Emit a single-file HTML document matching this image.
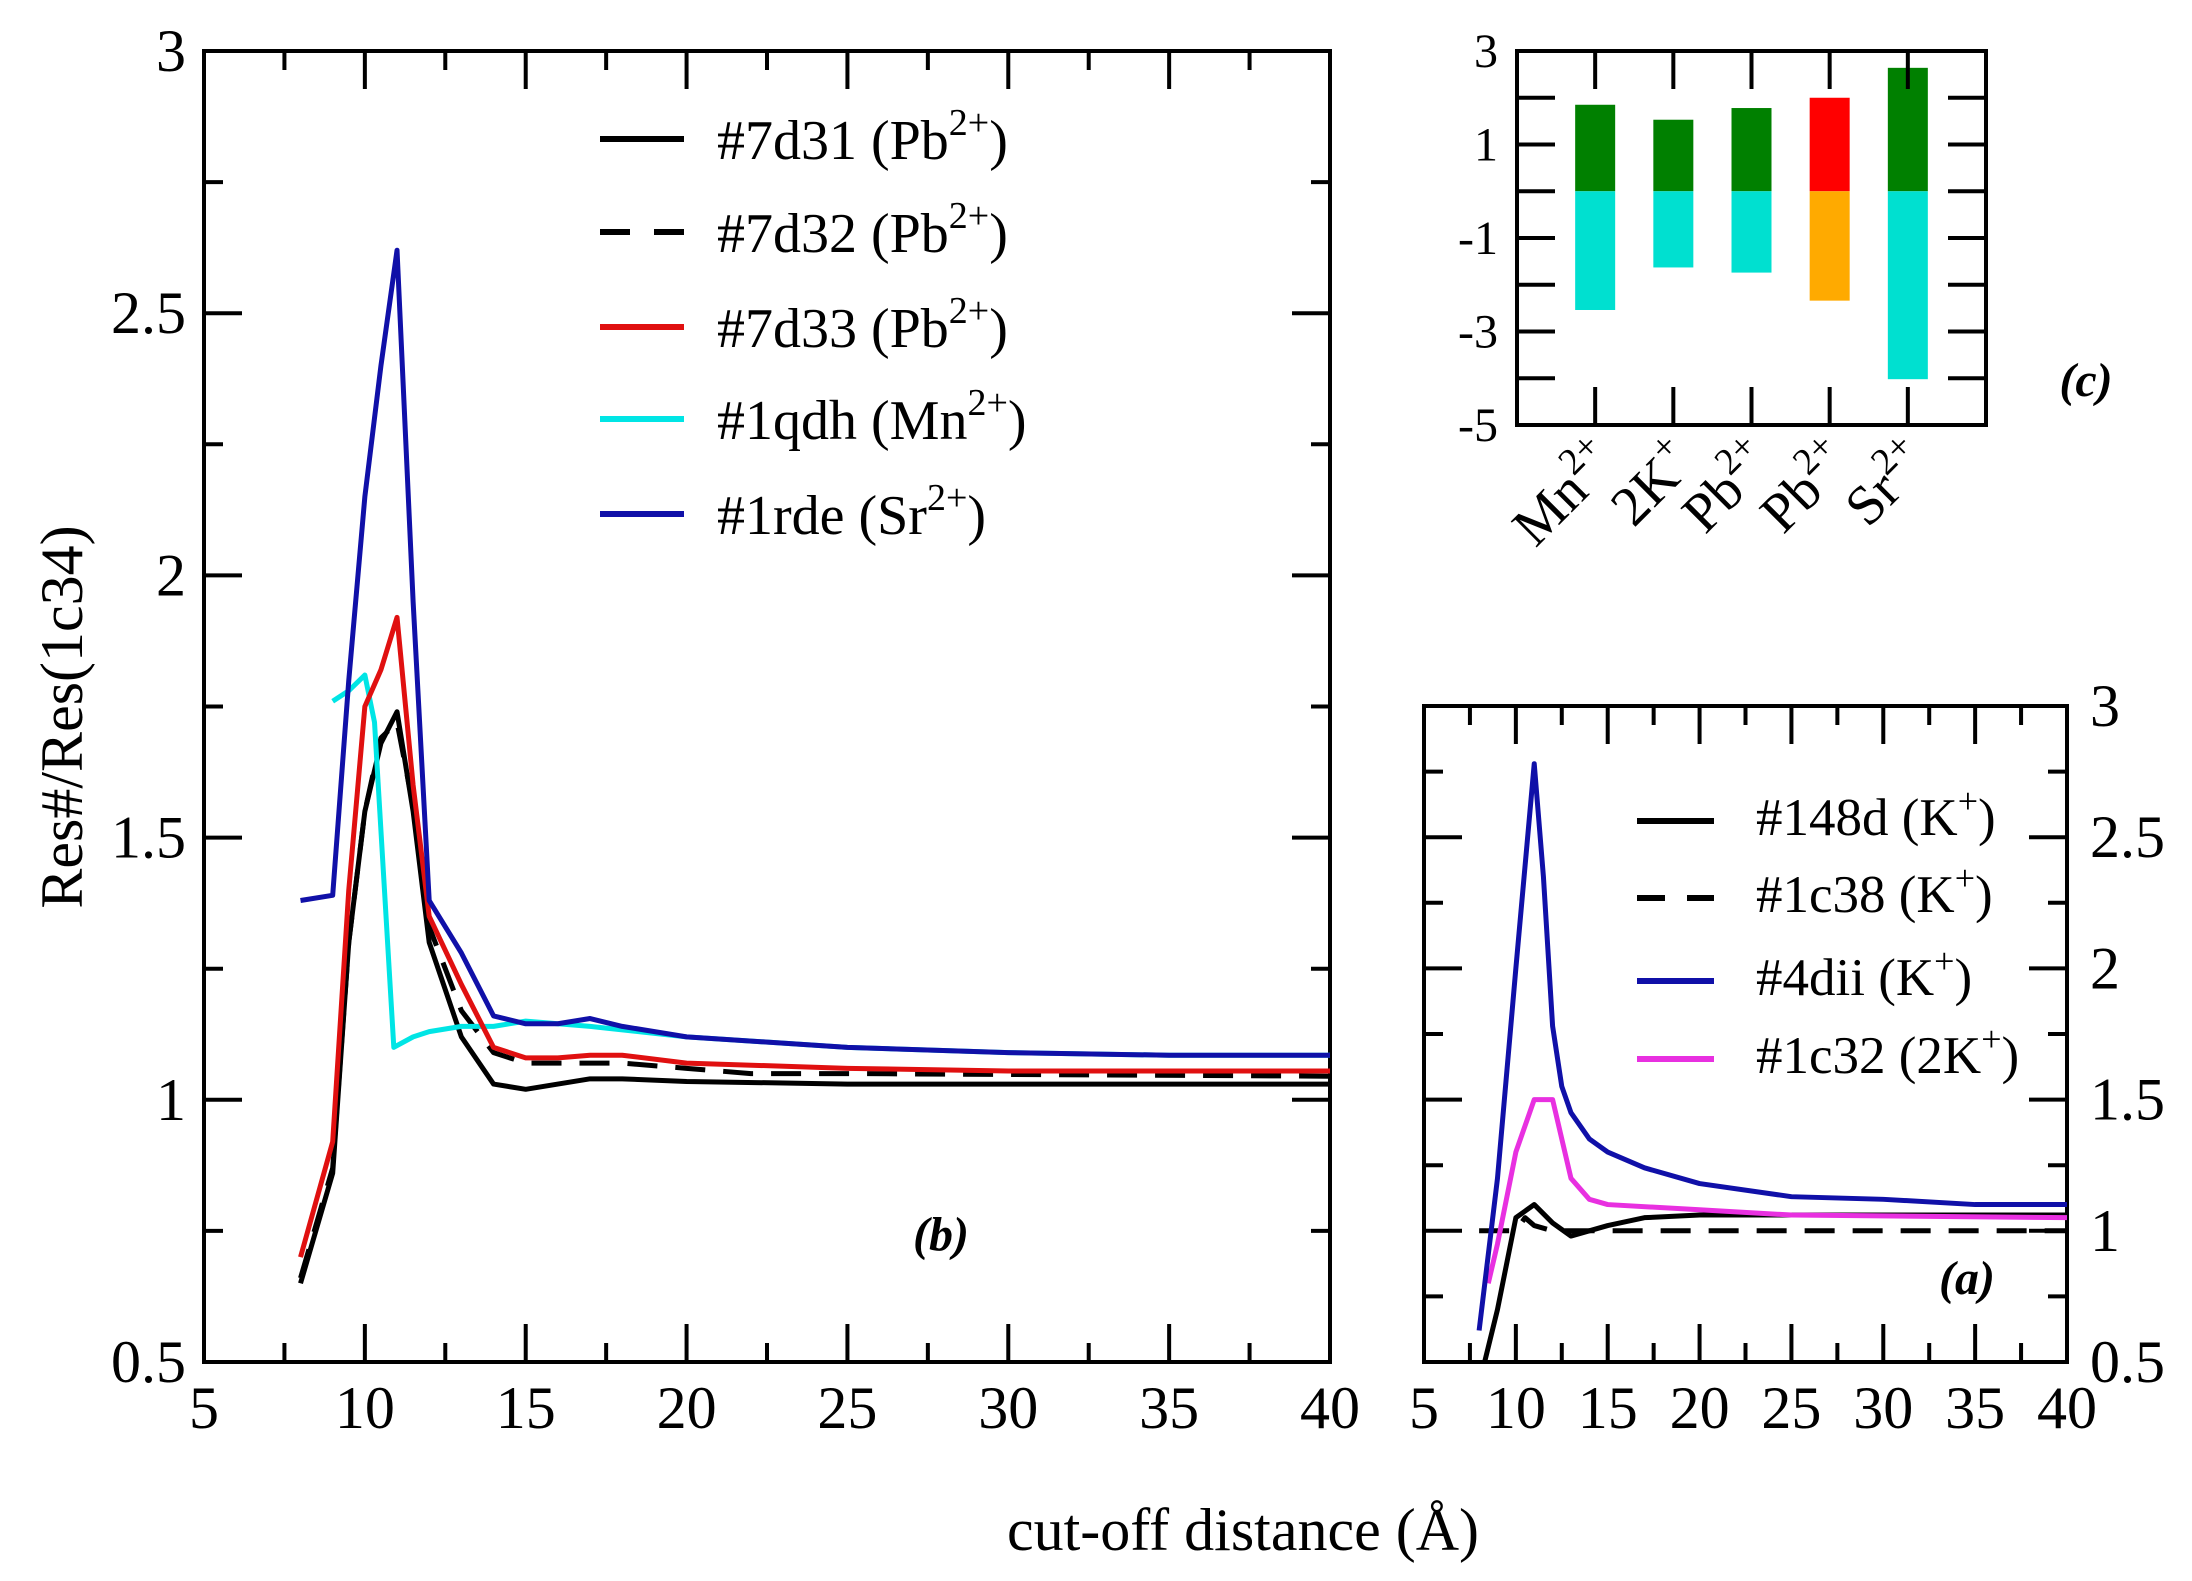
<!DOCTYPE html>
<html><head><meta charset="utf-8">
<style>
html,body{margin:0;padding:0;background:#fff;}
svg{display:block;}
text{font-family:"Liberation Serif",serif;fill:#000;}
</style></head>
<body>
<svg id="fig" xmlns="http://www.w3.org/2000/svg" width="2192" height="1581" viewBox="0 0 2192 1581">
<rect width="2192" height="1581" fill="#fff"/>
<g id="panelB"></g>
<g id="panelA"></g>
<g id="panelC"></g>
<text x="0" y="0" font-size="60" text-anchor="middle" transform="translate(82,717) rotate(-90)">Res#/Res(1c34)</text>
<text x="1243" y="1550" font-size="60" text-anchor="middle">cut-off distance (Å)</text>
<text x="941" y="1250" font-size="48" font-weight="bold" font-style="italic" text-anchor="middle">(b)</text>
<text x="1967" y="1294" font-size="48" font-weight="bold" font-style="italic" text-anchor="middle">(a)</text>
<text x="2086" y="396" font-size="48" font-weight="bold" font-style="italic" text-anchor="middle">(c)</text>
</svg>
<script>
// ---- Panel (b) data ----
const bSr_x = [8,9,9.5,10,10.5,11,11.5,12,13,14,15,16,17,18,20,25,30,35,40];
const bSr_y = [1.38,1.39,1.8,2.15,2.4,2.62,1.95,1.38,1.28,1.16,1.145,1.145,1.155,1.14,1.12,1.10,1.09,1.085,1.085];
const bRed_x = [8,9,9.5,10,10.5,11,11.5,12,13,14,15,16,17,18,20,25,30,40];
const bRed_y = [0.70,0.92,1.4,1.75,1.82,1.92,1.6,1.35,1.22,1.10,1.08,1.08,1.085,1.085,1.07,1.06,1.055,1.055];
const bBlk_x = [8,9,9.5,10,10.5,11,11.5,12,13,14,15,16,17,18,20,25,40];
const bBlk_y = [0.65,0.86,1.3,1.55,1.68,1.74,1.55,1.30,1.12,1.03,1.02,1.03,1.04,1.04,1.035,1.03,1.03];
const bDash_x = [8,9,9.5,10,10.5,11,11.5,12,13,14,15,16,18,20,22,25,40];
const bDash_y = [0.66,0.87,1.3,1.55,1.69,1.72,1.56,1.33,1.17,1.09,1.07,1.07,1.07,1.06,1.05,1.05,1.045];
const bCyan_x = [9,9.5,10,10.3,10.9,11.5,12,13,14,15,17,20,25,30,35,40];
const bCyan_y = [1.76,1.78,1.81,1.72,1.10,1.12,1.13,1.14,1.14,1.15,1.14,1.12,1.10,1.09,1.085,1.085];
const bYTicks = [0.5,1,1.5,2,2.5,3];
const bYLabels = ["0.5","1","1.5","2","2.5","3"];
const xTicks = [5,10,15,20,25,30,35,40];
const xLabels = ["5","10","15","20","25","30","35","40"];
// ---- Panel (a) data ----
const aBlue_x = [8,9,10,11,11.5,12,12.5,13,14,15,17,20,25,30,35,40];
const aBlue_y = [0.62,1.2,2.0,2.78,2.35,1.78,1.55,1.45,1.35,1.3,1.24,1.18,1.13,1.12,1.10,1.10];
const aMag_x = [8.5,9,10,11,12,13,14,15,20,25,40];
const aMag_y = [0.8,0.95,1.3,1.5,1.5,1.2,1.12,1.1,1.08,1.06,1.05];
const aBlk_x = [8.3,9,10,11,12,13,14,15,17,20,40];
const aBlk_y = [0.5,0.7,1.05,1.1,1.03,0.98,1.0,1.02,1.05,1.06,1.06];
const aDash_x = [8,10,10.5,11,12,40];
const aDash_y = [1.0,1.0,1.05,1.02,1.0,1.0];
const aYTicks = [0.5,1,1.5,2,2.5,3];
const aYLabels = ["0.5","1","1.5","2","2.5","3"];
// ---- Panel (c) data ----
const cCats = ["Mn","2K","Pb","Pb","Sr"];
const cSups = ["2+","+","2+","2+","2+"];
const cPos = [1.85,1.53,1.78,2.0,2.64];
const cNeg = [-2.54,-1.63,-1.74,-2.34,-4.02];
const cPosColors = ["#008000","#008000","#008000","#ff0000","#008000"];
const cNegColors = ["#00e0d0","#00e0d0","#00e0d0","#ffaa00","#00e0d0"];
const cYTicks = [3,1,-1,-3,-5];
const cYLabels = ["3","1","-1","-3","-5"];

const NS="http://www.w3.org/2000/svg";
function mk(parent,tag,attrs){const e=document.createElementNS(NS,tag);for(const k in attrs)e.setAttribute(k,attrs[k]);parent.appendChild(e);return e;}

// panel b
const gB=document.getElementById('panelB');
const bL=204,bR=1330,bT=51,bBt=1362;
const bX=x=>bL+(x-5)*(bR-bL)/35;
const bY=v=>bBt-(v-0.5)*(bBt-bT)/2.5;
function ticksFrame(g,L,R,T,B,xf,yf,yMin,yMax,yStep){
  let f=mk(g,'rect',{x:L,y:T,width:R-L,height:B-T,fill:'none',stroke:'#000','stroke-width':4});
  
  
  for(let x=5;x<=40.01;x+=2.5){
    const major=Math.abs(x/5-Math.round(x/5))<1e-6;const len=major?38:19;const px=xf(x);
    mk(g,'line',{x1:px,y1:B,x2:px,y2:B-len,stroke:'#000','stroke-width':4});
    mk(g,'line',{x1:px,y1:T,x2:px,y2:T+len,stroke:'#000','stroke-width':4});
  }
  for(let v=yMin;v<=yMax+1e-6;v+=yStep/2){
    const major=Math.abs(v/yStep-Math.round(v/yStep))<1e-6;const len=major?38:19;const py=yf(v);
    mk(g,'line',{x1:L,y1:py,x2:L+len,y2:py,stroke:'#000','stroke-width':4});
    mk(g,'line',{x1:R,y1:py,x2:R-len,y2:py,stroke:'#000','stroke-width':4});
  }
}
ticksFrame(gB,bL,bR,bT,bBt,bX,bY,0.5,3,0.5);
xTicks.forEach((t,i)=>{const e=mk(gB,'text',{x:bX(t),y:1428,'font-size':60,'text-anchor':'middle'});e.textContent=xLabels[i];

});
bYTicks.forEach((t,i)=>{const e=mk(gB,'text',{x:186,y:bY(t)+20,'font-size':60,'text-anchor':'end'});e.textContent=bYLabels[i];

});
function line(g,xs,ys,xf,yf,color,dash,name,w,clip){
  const pts=xs.map((x,i)=>xf(x)+','+yf(ys[i])).join(' ');
  const a={points:pts,fill:'none',stroke:color,'stroke-width':w||5,'stroke-linejoin':'round'};
  if(dash)a['stroke-dasharray']=dash;
  if(clip)a['clip-path']=clip;
  const e=mk(g,'polyline',a);
  
  
}
line(gB,bDash_x,bDash_y,bX,bY,'#000','30,18','series-7d32');
line(gB,bBlk_x,bBlk_y,bX,bY,'#000',null,'series-7d31');
line(gB,bCyan_x,bCyan_y,bX,bY,'#00e5e5',null,'series-1qdh');
line(gB,bRed_x,bRed_y,bX,bY,'#e01010',null,'series-7d33');
line(gB,bSr_x,bSr_y,bX,bY,'#1010a8',null,'series-1rde');
const legB=[["#7d31 (Pb","2+",")","#000",null],["#7d32 (Pb","2+",")","#000","30,18"],["#7d33 (Pb","2+",")","#e01010",null],["#1qdh (Mn","2+",")","#00e5e5",null],["#1rde (Sr","2+",")","#1010a8",null]];
const legBY=[149,242,337,429,524];
legB.forEach((l,i)=>{
  const g=mk(gB,'g',{});
  
  
  const a={x1:600,y1:legBY[i]-10,x2:684,y2:legBY[i]-10,stroke:l[3],'stroke-width':6};if(l[4])a['stroke-dasharray']='30,24';
  mk(g,'line',a);
  const t=mk(g,'text',{x:717,y:legBY[i]+10,'font-size':56});
  t.appendChild(document.createTextNode(l[0]));
  const s=mk(t,'tspan',{dy:-24,'font-size':38});s.textContent=l[1];
  const c=mk(t,'tspan',{dy:24});c.textContent=l[2];
});

// panel a
const gA=document.getElementById('panelA');
const aL=1424,aR=2067,aT=706,aBt=1362;
const aX=x=>aL+(x-5)*(aR-aL)/35;
const aY=v=>aBt-(v-0.5)*(aBt-aT)/2.5;
const defs=mk(document.getElementById('fig'),'defs',{});
const cp=mk(defs,'clipPath',{id:'clipA'});mk(cp,'rect',{x:aL,y:aT,width:aR-aL,height:aBt-aT});
ticksFrame(gA,aL,aR,aT,aBt,aX,aY,0.5,3,0.5);
xTicks.forEach((t,i)=>{const e=mk(gA,'text',{x:aX(t),y:1428,'font-size':60,'text-anchor':'middle'});e.textContent=xLabels[i];

});
aYTicks.forEach((t,i)=>{const e=mk(gA,'text',{x:2090,y:aY(t)+20,'font-size':60});e.textContent=aYLabels[i];

});
line(gA,aDash_x,aDash_y,aX,aY,'#000','30,18','series-1c38',5,'url(#clipA)');
line(gA,aBlk_x,aBlk_y,aX,aY,'#000',null,'series-148d',5,'url(#clipA)');
line(gA,aMag_x,aMag_y,aX,aY,'#e830e0',null,'series-1c32',5,'url(#clipA)');
line(gA,aBlue_x,aBlue_y,aX,aY,'#1010a8',null,'series-4dii',5,'url(#clipA)');
const legA=[["#148d (K","+",")","#000",null],["#1c38 (K","+",")","#000","d"],["#4dii (K","+",")","#1010a8",null],["#1c32 (2K","+",")","#e830e0",null]];
const legAY=[835,912,995,1073];
legA.forEach((l,i)=>{
  const g=mk(gA,'g',{});
  
  
  const a={x1:1637,y1:legAY[i]-14,x2:1714,y2:legAY[i]-14,stroke:l[3],'stroke-width':6};if(l[4])a['stroke-dasharray']='28,22';
  mk(g,'line',a);
  const t=mk(g,'text',{x:1756,y:legAY[i],'font-size':53});
  t.appendChild(document.createTextNode(l[0]));
  const s=mk(t,'tspan',{dy:-22,'font-size':36});s.textContent=l[1];
  const c=mk(t,'tspan',{dy:22});c.textContent=l[2];
});

// panel c
const gC=document.getElementById('panelC');
const cL=1517,cR=1986,cT=51,cB=425;
const cX=i=>cL+(i+1)*(cR-cL)/6;
const cY=v=>cT+(3-v)*(cB-cT)/8;
cCats.forEach((c,i)=>{
  const x=cX(i)-20;
  let r=mk(gC,'rect',{x:x,y:cY(cPos[i]),width:40,height:cY(0)-cY(cPos[i]),fill:cPosColors[i]});
  
  
  r=mk(gC,'rect',{x:x,y:cY(0),width:40,height:cY(cNeg[i])-cY(0),fill:cNegColors[i]});
  
  
});
let cf=mk(gC,'rect',{x:cL,y:cT,width:cR-cL,height:cB-cT,fill:'none',stroke:'#000','stroke-width':4});


for(let v=-4;v<=2;v++){const py=cY(v);
  mk(gC,'line',{x1:cL,y1:py,x2:cL+38,y2:py,stroke:'#000','stroke-width':4});
  mk(gC,'line',{x1:cR,y1:py,x2:cR-38,y2:py,stroke:'#000','stroke-width':4});}
cCats.forEach((c,i)=>{const px=cX(i);
  mk(gC,'line',{x1:px,y1:cT,x2:px,y2:cT+38,stroke:'#000','stroke-width':4});
  mk(gC,'line',{x1:px,y1:cB,x2:px,y2:cB-38,stroke:'#000','stroke-width':4});
  const t=mk(gC,'text',{x:0,y:0,'font-size':56,'text-anchor':'end',transform:'translate('+(px+24)+','+(cB+40)+') rotate(-45)'});
  
  
  t.appendChild(document.createTextNode(c));
  const s=mk(t,'tspan',{dy:-24,'font-size':38});s.textContent=cSups[i];
});
cYTicks.forEach((t,i)=>{const e=mk(gC,'text',{x:1498,y:cY(t)+16,'font-size':48,'text-anchor':'end'});e.textContent=cYLabels[i];

});
</script>
</body></html>
